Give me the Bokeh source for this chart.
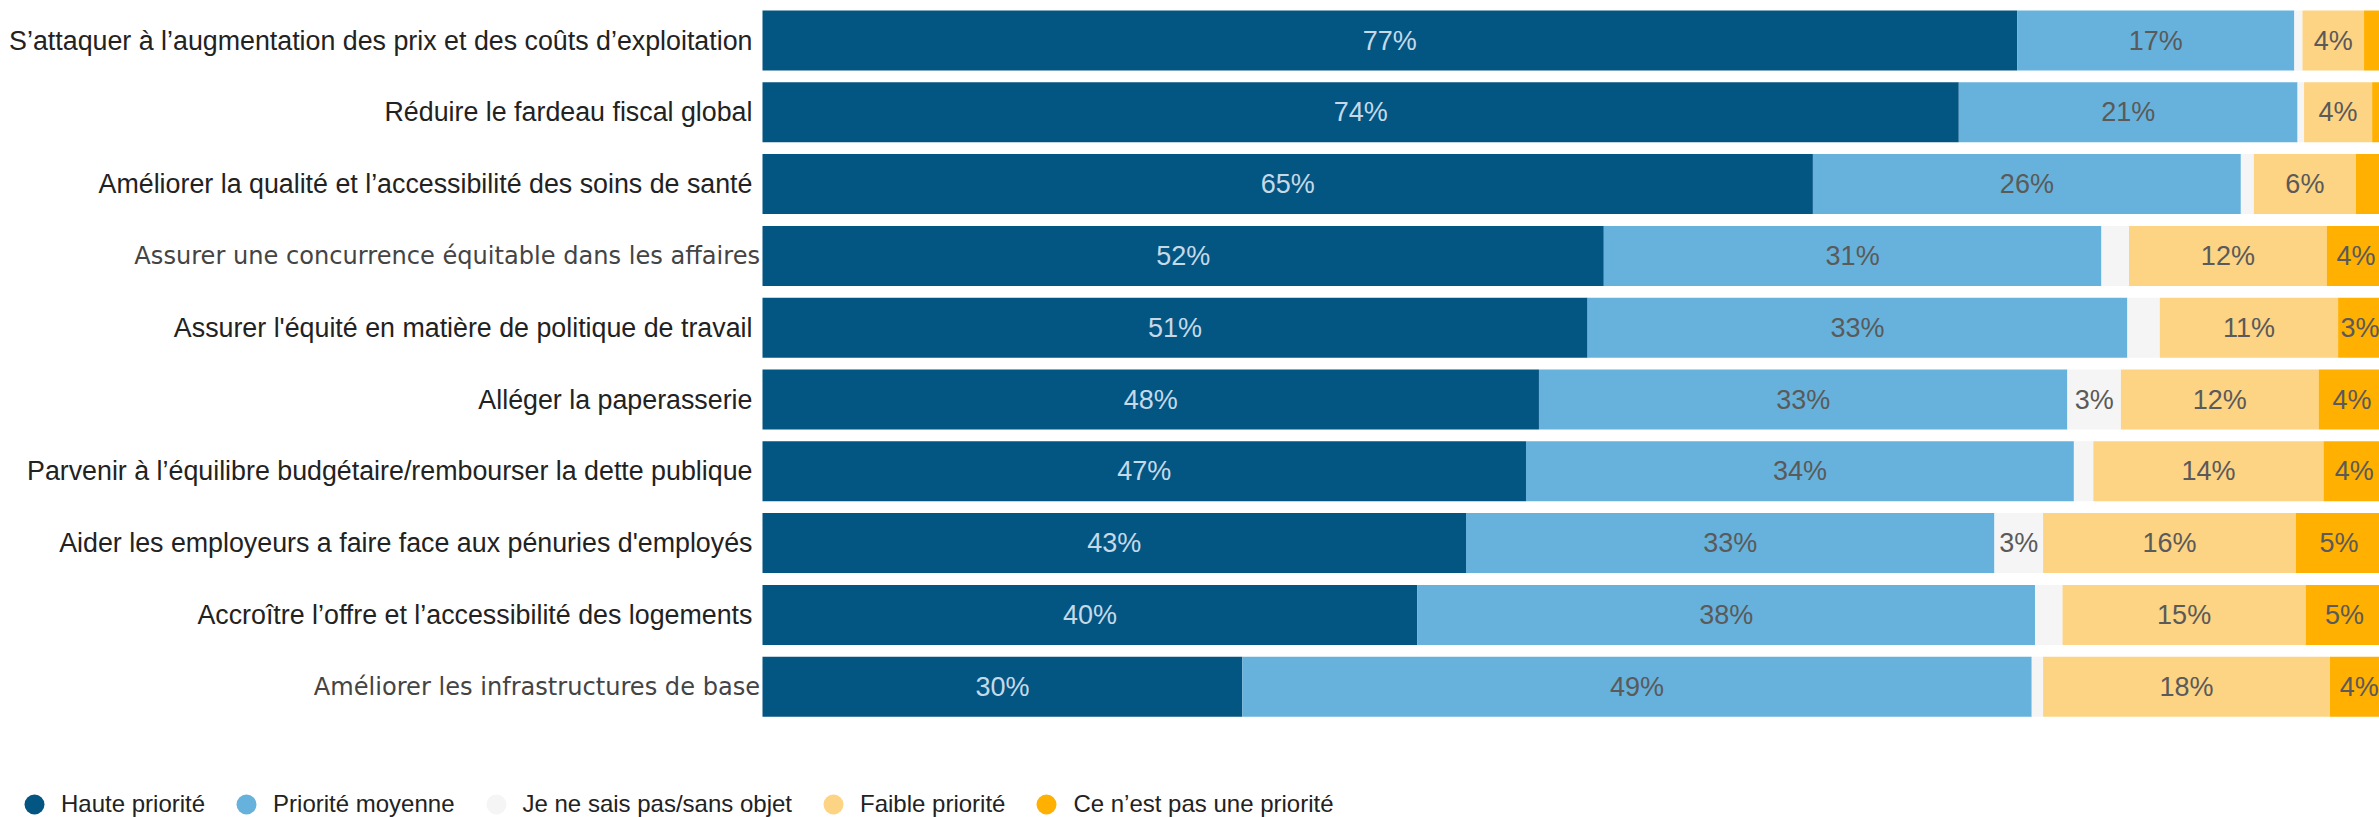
from bokeh.plotting import figure
from bokeh.models import ColumnDataSource, Range1d, Legend, LegendItem
from bokeh.core.properties import value
from bokeh.embed import file_html
from bokeh.resources import INLINE

# ---------------- data ----------------
categories = [
    "S’attaquer à l’augmentation des prix et des coûts d’exploitation",
    "Réduire le fardeau fiscal global",
    "Améliorer la qualité et l’accessibilité des soins de santé",
    "Assurer une concurrence équitable dans les affaires",
    "Assurer l'équité en matière de politique de travail",
    "Alléger la paperasserie",
    "Parvenir à l’équilibre budgétaire/rembourser la dette publique",
    "Aider les employeurs a faire face aux pénuries d'employés",
    "Accroître l’offre et l’accessibilité des logements",
    "Améliorer les infrastructures de base",
]
haute = [77.4, 73.8, 64.8, 51.9, 50.9, 47.9, 47.1, 43.4, 40.4, 29.6]
moyenne = [17.1, 20.9, 26.4, 30.7, 33.3, 32.6, 33.8, 32.6, 38.1, 48.7]
nsp = [0.5, 0.4, 0.8, 1.7, 2.0, 3.3, 1.2, 3.0, 1.7, 0.7]
faible = [3.8, 4.2, 6.3, 12.2, 11.0, 12.2, 14.2, 15.6, 15.0, 17.7]
pas_priorite = [1.2, 0.7, 1.7, 3.6, 2.7, 4.1, 3.8, 5.3, 4.8, 3.6]
series_names = ["Haute priorité", "Priorité moyenne", "Je ne sais pas/sans objet",
                "Faible priorité", "Ce n’est pas une priorité"]
alt_font_rows = [3, 9]  # rows drawn in a different typeface in the original

# ---------------- style ----------------
colors = ["#035582", "#66B2DC", "#F5F5F5", "#FDD384", "#FFB000"]
label_colors = ["#C5D9E8", "#5A5A5A", "#5A5A5A", "#5A5A5A", "#5A5A5A"]

W, H = 2379, 817
x0_px = 762.0
px_per_unit = 16.21
row_px = 71.8
first_row_px = 40.0

x_start = -x0_px / px_per_unit
x_end = (W - x0_px) / px_per_unit
y_top = -first_row_px / row_px
y_bottom = (H - first_row_px) / row_px

p = figure(width=W, height=H, output_backend="svg", toolbar_location=None,
           x_range=Range1d(x_start, x_end), y_range=Range1d(y_bottom, y_top),
           x_axis_location=None, y_axis_location=None, min_border=0,
           border_fill_color="white", background_fill_color="white")
p.grid.visible = False
p.outline_line_color = None

series = [haute, moyenne, nsp, faible, pas_priorite]
n = len(categories)
ys = list(range(n))
cum = [0.0] * n
for k, vals in enumerate(series):
    left = cum[:]
    right = [l + v for l, v in zip(left, vals)]
    cum = right
    src = ColumnDataSource(dict(y=ys, left=left, right=right))
    p.hbar(y="y", left="left", right="right", height=0.836, source=src,
           fill_color=colors[k], line_color=None)
    lx, ly, lt = [], [], []
    for i, v in enumerate(vals):
        if round(v) >= 3:
            lx.append((left[i] + right[i]) / 2)
            ly.append(i)
            lt.append(f"{v:.0f}%")
    lsrc = ColumnDataSource(dict(x=lx, y=ly, t=lt))
    p.text(x="x", y="y", text="t", source=lsrc, text_align="center",
           text_baseline="middle", text_font=value("Liberation Sans"),
           text_font_size="27px", text_color=label_colors[k])

# category labels
main_rows = [i for i in ys if i not in alt_font_rows]
csrc = ColumnDataSource(dict(y=main_rows, t=[categories[i] for i in main_rows]))
p.text(x=-0.62, y="y", text="t", source=csrc, text_align="right",
       text_baseline="middle", text_font=value("Liberation Sans"),
       text_font_size="26.8px", text_color="#222222")
asrc = ColumnDataSource(dict(y=alt_font_rows, t=[categories[i] for i in alt_font_rows]))
p.text(x=-0.15, y="y", text="t", source=asrc, text_align="right",
       text_baseline="middle", text_font=value("DejaVu Sans"),
       text_font_size="24.1px", text_color="#444444")

# legend (swatch-only renderers: NaN coordinates, nothing drawn in the plot)
nan = float("nan")
items = []
for name, c in zip(series_names, colors):
    r = p.scatter(x=[nan], y=[nan], marker="circle", size=20, fill_color=c, line_color=None)
    items.append(LegendItem(label=name, renderers=[r]))
legend = Legend(items=items, orientation="horizontal", location=(9, -12),
                glyph_width=50, glyph_height=50, label_standoff=2, spacing=16,
                padding=0, margin=0, border_line_alpha=0, background_fill_alpha=0,
                label_text_font="Liberation Sans", label_text_font_size="24px",
                label_text_color="#222222")
p.add_layout(legend)

open("out.html", "w").write(file_html(p, INLINE))
